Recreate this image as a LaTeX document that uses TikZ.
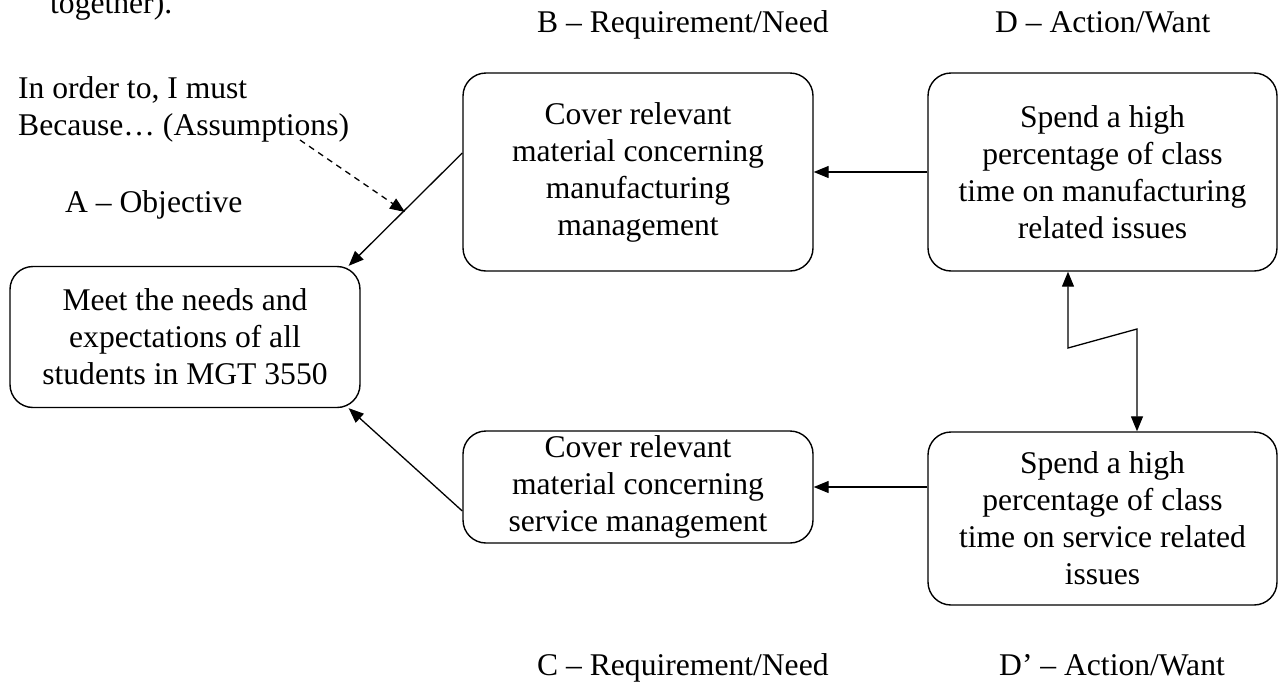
\documentclass[tikz,border=0pt]{standalone}
\usepackage{fontspec}
\setmainfont{Liberation Serif}
\usetikzlibrary{arrows.meta}
\begin{document}
\begin{tikzpicture}[x=1pt,y=-1pt,
  every node/.style={font=\fontsize{31.6}{37}\selectfont, inner sep=0pt},
  box/.style={draw, line width=1.4pt, rounded corners=23pt, align=center},
  lbl/.style={anchor=base west},
  conn/.style={line width=1.3pt, -{Triangle[length=15pt,width=12pt]}},
  dconn/.style={conn, dashed, dash pattern=on 6pt off 5pt}]
\useasboundingbox (0,0) rectangle (1278,683);
% boxes
\node[box, minimum width=350pt, minimum height=141pt] (A) at (185,337) {Meet the needs and\\expectations of all\\students in MGT 3550};
\node[box, minimum width=350pt, minimum height=198pt] (B) at (638,172) {Cover relevant\\material concerning\\manufacturing\\management};
\node[box, minimum width=349pt, minimum height=198pt] (D) at (1102.5,172) {Spend a high\\percentage of class\\time on manufacturing\\related issues};
\node[box, minimum width=350pt, minimum height=112pt] (C) at (638,487) {Cover relevant\\material concerning\\service management};
\node[box, minimum width=349pt, minimum height=173pt] (Dp) at (1102.5,518.5) {Spend a high\\percentage of class\\time on service related\\issues};
% labels
\node[lbl] (tog) at (50,13) {together).};
\node[lbl] (ord) at (18,98) {In order to, I must};
\node[lbl] (bec) at (18,135) {Because\ldots\ (Assumptions)};
\node[lbl] (lA) at (65,212) {A -- Objective};
\node[lbl] (lB) at (537,32) {B -- Requirement/Need};
\node[lbl] (lD) at (995,32) {D -- Action/Want};
\node[lbl] (lC) at (537,675) {C -- Requirement/Need};
\node[lbl] (lDp) at (999,675) {D' -- Action/Want};
% connectors
\draw[conn] (D.west) -- (B.east);
\draw[conn] (C.east -| Dp.west) -- (C.east);
\draw[conn] ([yshift=19pt]B.west) -- ([xshift=-12pt]A.north east);
\coordinate (ca) at ([yshift=-24pt]C.west);
\draw[conn] (ca) -- ([xshift=-12pt]A.south east);
\coordinate (ds) at (300,140);
\coordinate (de) at (405,212);
\draw[dconn] (ds) -- (de);
% conflict arrow
\coordinate (z1) at (1068,348);
\coordinate (z2) at (1137,329);
\draw[line width=1.3pt, {Triangle[length=15pt,width=12pt]}-{Triangle[length=15pt,width=12pt]}]
  (D.south -| z1) -- (z1) -- (z2) -- (Dp.north -| z2);
\end{tikzpicture}
\end{document}
